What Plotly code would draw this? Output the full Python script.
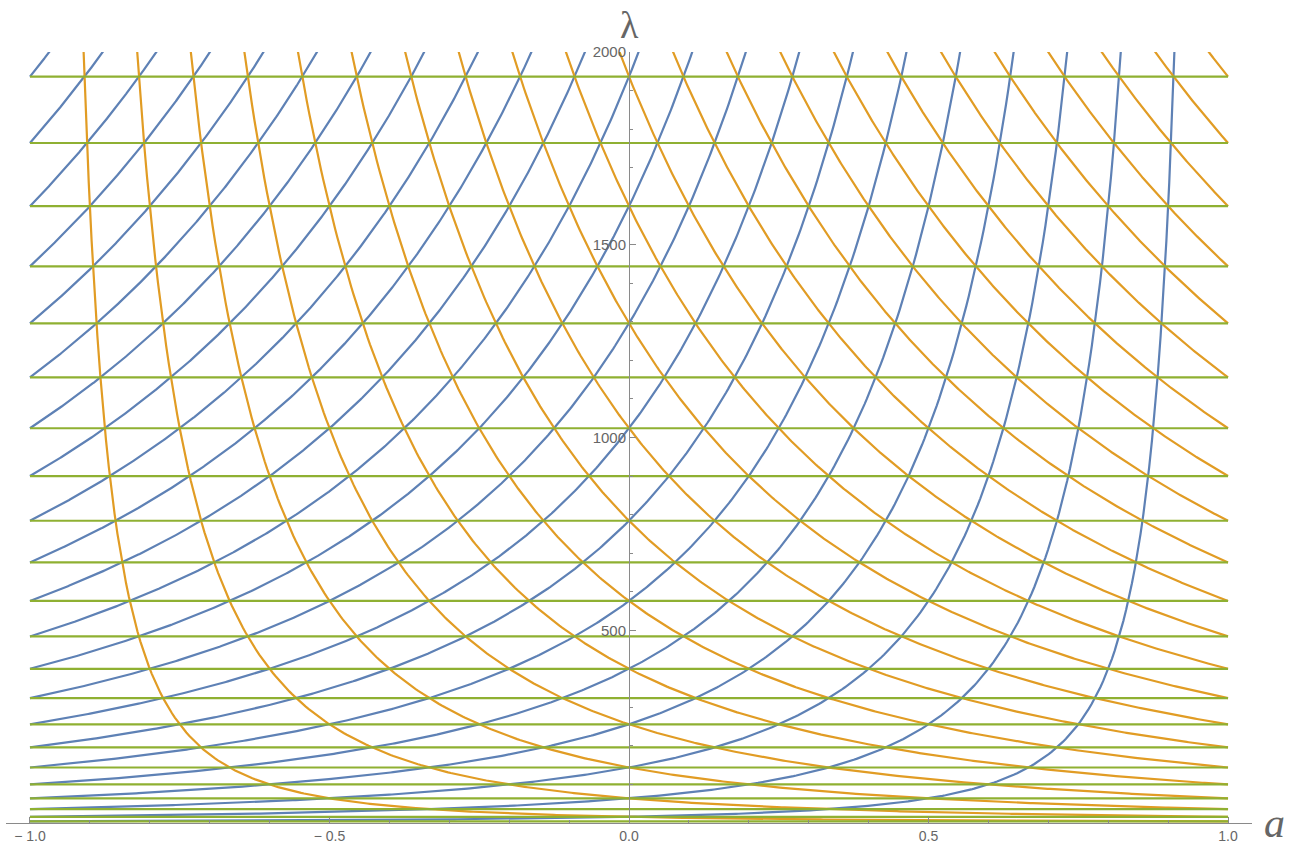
import numpy as np
import plotly.graph_objects as go

# Values
green_levels = [4, 16, 36, 64, 100, 144, 196, 256, 324, 400, 484, 576, 676, 784,
                900, 1024, 1156, 1296, 1444, 1600, 1764, 1936]   # horizontal lines, lambda = (2n)^2
blue_index = list(range(1, 23))     # blue curve m starts at (2m)^2 at a=-1
orange_index = list(range(1, 23))   # orange curve m ends at (2m)^2 at a=+1
x_tick_vals = [-1.0, -0.5, 0.0, 0.5, 1.0]
x_tick_text = ["\u2212 1.0", "\u2212 0.5", "0.0", "0.5", "1.0"]
y_tick_vals = [500, 1000, 1500, 2000]
y_tick_text = ["500", "1000", "1500", "2000"]

BLUE = "#5E81B5"
ORANGE = "#E19C24"
GREEN = "#8FB032"
LMAX = 2000

fig = go.Figure()

# blue family: lambda = (2m)^2 * (2/(1-a))^2
for m in blue_index:
    a_end = min(1.0, 1 - 4 * m / np.sqrt(LMAX * 1.02))
    a = np.linspace(-1, a_end, 400)
    lam = 16 * m**2 / (1 - a) ** 2
    fig.add_trace(go.Scatter(x=a, y=lam, mode="lines",
                             line=dict(color=BLUE, width=2.2), hoverinfo="skip"))

# orange family: mirror image
for m in orange_index:
    a_start = max(-1.0, -1 + 4 * m / np.sqrt(LMAX * 1.02))
    a = np.linspace(a_start, 1, 400)
    lam = 16 * m**2 / (1 + a) ** 2
    fig.add_trace(go.Scatter(x=a, y=lam, mode="lines",
                             line=dict(color=ORANGE, width=2.2), hoverinfo="skip"))

# green horizontal lines
for lv in green_levels:
    fig.add_trace(go.Scatter(x=[-1, 1], y=[lv, lv], mode="lines",
                             line=dict(color=GREEN, width=2.2), hoverinfo="skip"))

AX = "#8a8a8a"
TXT = "#666666"

fig.update_layout(
    width=1302, height=852,
    margin=dict(l=6, r=50, t=52, b=29, autoexpand=False),
    paper_bgcolor="white", plot_bgcolor="white",
    showlegend=False,
    xaxis=dict(range=[-1.04, 1.04], showgrid=False, zeroline=False,
               automargin=False,
               showline=True, linecolor=AX, linewidth=1,
               tickmode="array", tickvals=x_tick_vals, ticktext=x_tick_text,
               ticks="inside", ticklen=6, tickcolor=AX,
               tickfont=dict(family="Liberation Sans", size=14, color=TXT),
               minor=dict(ticks="inside", ticklen=3, tickcolor=AX, dtick=0.1,
                          tick0=0, showgrid=False)),
    yaxis=dict(range=[0, LMAX], showgrid=False, zeroline=False,
               automargin=False,
               anchor="free", position=0.5, side="left",
               showline=True, linecolor=AX, linewidth=1,
               tickmode="array", tickvals=y_tick_vals, ticktext=y_tick_text,
               ticks="inside", ticklen=6, tickcolor=AX,
               tickfont=dict(family="Liberation Sans", size=15, color=TXT),
               minor=dict(ticks="inside", ticklen=3, tickcolor=AX, dtick=100,
                          tick0=0, showgrid=False)),
    annotations=[
        dict(text="\u03bb", xref="x", yref="paper", x=0, y=1, yshift=4,
             xanchor="center", yanchor="bottom", showarrow=False,
             font=dict(family="Liberation Serif", size=38, color=TXT)),
        dict(text="<i>a</i>", xref="paper", yref="y", x=1, y=0, xshift=10,
             xanchor="left", yanchor="middle", showarrow=False,
             font=dict(family="Liberation Serif", size=42, color=TXT)),
    ],
)

fig.write_html("out.html",
               config={"displayModeBar": False},
               post_script="document.body.style.margin='0';document.body.style.overflow='hidden';")
